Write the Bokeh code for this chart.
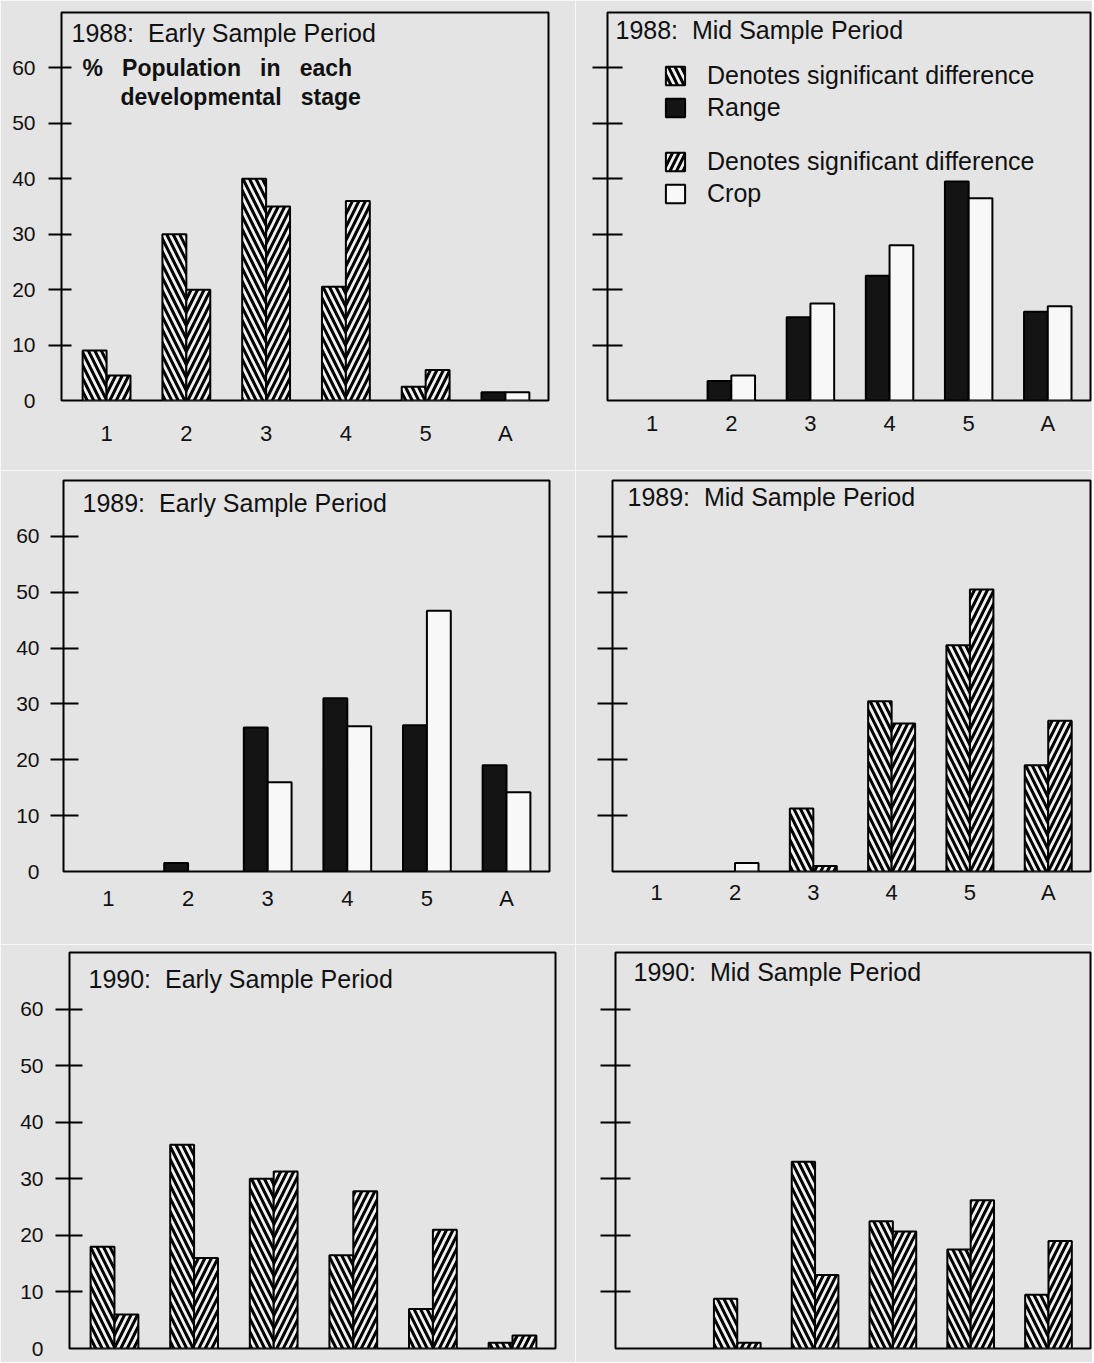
import numpy as np
from bokeh.plotting import figure
from bokeh.models import ColumnDataSource, Range1d, FixedTicker, Legend, LegendItem, Label
from bokeh.layouts import column, row
from bokeh.embed import file_html
from bokeh.resources import INLINE

# ---------------- data ----------------
stages = ['1', '2', '3', '4', '5', 'A']
y_ticks = [0, 10, 20, 30, 40, 50, 60]

titles = [
    "1988:\u00a0 Early Sample Period",
    "1988:\u00a0 Mid Sample Period",
    "1989:\u00a0 Early Sample Period",
    "1989:\u00a0 Mid Sample Period",
    "1990:\u00a0 Early Sample Period",
    "1990:\u00a0 Mid Sample Period",
]

range_88e = [9, 30, 40, 20.5, 2.5, 1.5]
crop_88e = [4.5, 20, 35, 36, 5.5, 1.5]
range_sig_88e = [1, 1, 1, 1, 1, 0]
crop_sig_88e = [1, 1, 1, 1, 1, 0]

range_88m = [0, 3.5, 15, 22.5, 39.5, 16]
crop_88m = [0, 4.5, 17.5, 28, 36.5, 17]
range_sig_88m = [0, 0, 0, 0, 0, 0]
crop_sig_88m = [0, 0, 0, 0, 0, 0]

range_89e = [0, 1.5, 25.8, 31, 26.2, 19]
crop_89e = [0, 0, 16, 26, 46.7, 14.2]
range_sig_89e = [0, 0, 0, 0, 0, 0]
crop_sig_89e = [0, 0, 0, 0, 0, 0]

range_89m = [0, 0, 11.3, 30.5, 40.5, 19]
crop_89m = [0, 1.5, 1, 26.5, 50.5, 27]
range_sig_89m = [0, 0, 1, 1, 1, 1]
crop_sig_89m = [0, 0, 1, 1, 1, 1]

range_90e = [18, 36, 30, 16.5, 7, 1]
crop_90e = [6, 16, 31.3, 27.8, 21, 2.3]
range_sig_90e = [1, 1, 1, 1, 1, 1]
crop_sig_90e = [1, 1, 1, 1, 1, 1]

range_90m = [0, 8.8, 33, 22.5, 17.5, 9.5]
crop_90m = [0, 1, 13, 20.7, 26.2, 19]
range_sig_90m = [1, 1, 1, 1, 1, 1]
crop_sig_90m = [1, 1, 1, 1, 1, 1]

legend_labels = ["Denotes significant difference", "Range",
                 "Denotes significant difference", "Crop"]
y_title_lines = ["%\u00a0\u00a0 Population\u00a0\u00a0 in\u00a0\u00a0 each",
                 "developmental\u00a0\u00a0 stage"]

# ---------------- styling ----------------
FONT = "Liberation Sans"
BG = "#e4e4e4"
INK = "#111111"
XSTART, XEND = -0.565, 5.54
YMAX = 70
BAR_W = 0.3
HATCH = dict(hatch_color="black", hatch_weight=3.0, hatch_scale=13)


def panel(title, rng, crop, rsig, csig, geom, yaxis_spec, xstandoff, title_off):
    w, h, bl, br, bt, bb = geom
    tick_out, tick_in, ystandoff, ylabels = yaxis_spec
    fw, fh = w - bl - br, h - bt - bb
    p = figure(width=w, height=h, min_border_left=bl, min_border_right=br,
               min_border_top=bt, min_border_bottom=bb,
               x_range=Range1d(XSTART, XEND), y_range=Range1d(0, YMAX),
               output_backend="svg", toolbar_location=None, tools="")
    p.background_fill_color = BG
    p.border_fill_color = BG
    p.outline_line_color = "black"
    p.outline_line_width = 2
    p.grid.visible = False

    ya = p.yaxis[0]
    ya.ticker = FixedTicker(ticks=y_ticks, minor_ticks=y_ticks[1:])
    ya.axis_line_color = None
    ya.major_tick_line_color = None
    ya.major_tick_out = tick_out
    ya.major_tick_in = 0
    ya.minor_tick_line_color = "black"
    ya.minor_tick_line_width = 2
    ya.minor_tick_in = tick_in
    ya.minor_tick_out = tick_out
    ya.major_label_standoff = ystandoff
    ya.major_label_text_font = FONT
    ya.major_label_text_font_size = "21px"
    ya.major_label_text_color = INK
    if not ylabels:
        ya.major_label_overrides = {t: "" for t in y_ticks}

    xa = p.xaxis[0]
    if xstandoff is not None:
        xa.ticker = FixedTicker(ticks=list(range(len(stages))))
        xa.major_label_overrides = {i: s for i, s in enumerate(stages)}
        xa.axis_line_color = None
        xa.major_tick_line_color = None
        xa.minor_tick_line_color = None
        xa.major_tick_out = 0
        xa.major_tick_in = 0
        xa.major_label_standoff = xstandoff
        xa.major_label_text_font = FONT
        xa.major_label_text_font_size = "22px"
        xa.major_label_text_color = INK
    else:
        xa.visible = False

    idx = np.arange(len(stages))
    rends = {}
    specs = [
        ("range_sig", rng, rsig, 1, -BAR_W / 2, dict(fill_color="#f0f0f0", hatch_pattern="\\", **HATCH)),
        ("range_non", rng, rsig, 0, -BAR_W / 2, dict(fill_color="#141414")),
        ("crop_sig", crop, csig, 1, BAR_W / 2, dict(fill_color="#f0f0f0", hatch_pattern="/", **HATCH)),
        ("crop_non", crop, csig, 0, BAR_W / 2, dict(fill_color="#f8f8f8")),
    ]
    for key, vals, sig, flag, off, style in specs:
        vals = np.asarray(vals, dtype=float)
        sig = np.asarray(sig)
        top = np.where((sig == flag) & (vals > 0), vals, np.nan)
        src = ColumnDataSource(dict(x=idx.astype(float) + off, top=top))
        rends[key] = p.vbar(x="x", top="top", bottom=0, width=BAR_W, source=src,
                            line_color="black", line_width=2, **style)

    ppx = fw / (XEND - XSTART)
    ppy = fh / YMAX
    dx, dy = title_off
    p.add_layout(Label(x=XSTART + dx / ppx, y=YMAX - dy / ppy, text=title,
                       text_baseline="middle", text_align="left",
                       text_font=FONT, text_font_size="25px", text_color=INK))
    return p, rends, ppx, ppy


p1, r1, ppx1, ppy1 = panel(titles[0], range_88e, crop_88e, range_sig_88e, crop_sig_88e,
                           (575, 470, 61, 27, 12, 65), (13, 10, 13, True), 20, (10, 21))
p2, r2, _, _ = panel(titles[1], range_88m, crop_88m, range_sig_88m, crop_sig_88m,
                     (517, 470, 32, 2, 5, 70), (15, 15, 0, False), 10, (8, 18))
p3, _, _, _ = panel(titles[2], range_89e, crop_89e, range_sig_89e, crop_sig_89e,
                    (575, 474, 63, 26, 10, 67), (13, 15, 11, True), 14, (19, 23))
p4, _, _, _ = panel(titles[3], range_89m, crop_89m, range_sig_89m, crop_sig_89m,
                    (517, 474, 37, 2, 4, 73), (15, 15, 0, False), 8, (15, 17))
p5, _, _, _ = panel(titles[4], range_90e, crop_90e, range_sig_90e, crop_sig_90e,
                    (575, 418, 69, 20, 8, 12), (14, 13, 12, True), None, (19, 27))
p6, _, _, _ = panel(titles[5], range_90m, crop_90m, range_sig_90m, crop_sig_90m,
                    (517, 418, 40, 2, 4, 14), (15, 15, 0, False), None, (18, 20))

# bold y-axis caption inside the first panel
p1.add_layout(Label(x=XSTART + 21 / ppx1, y=60, text=y_title_lines[0],
                    text_baseline="middle", text_font=FONT, text_font_style="bold",
                    text_font_size="23px", text_color=INK))
p1.add_layout(Label(x=XSTART + 59 / ppx1, y=60 - 29 / ppy1, text=y_title_lines[1],
                    text_baseline="middle", text_font=FONT, text_font_style="bold",
                    text_font_size="23px", text_color=INK))


def make_legend(items, loc):
    lg = Legend(items=items, location=loc, orientation="vertical")
    lg.background_fill_alpha = 0
    lg.border_line_color = None
    lg.padding = 0
    lg.margin = 0
    lg.spacing = 3
    lg.glyph_width = 24
    lg.glyph_height = 23
    lg.label_height = 23
    lg.label_standoff = 20
    lg.label_text_font = FONT
    lg.label_text_font_size = "25px"
    lg.label_text_color = INK
    return lg


leg1 = make_legend([LegendItem(label=legend_labels[0], renderers=[r2["range_sig"]]),
                    LegendItem(label=legend_labels[1], renderers=[r2["range_non"]])], (56, 278))
leg2 = make_legend([LegendItem(label=legend_labels[2], renderers=[r2["crop_sig"]]),
                    LegendItem(label=legend_labels[3], renderers=[r2["crop_non"]])], (56, 192))
p2.add_layout(leg1)
p2.add_layout(leg2)

root = column(row(p1, p2, spacing=0), row(p3, p4, spacing=0), row(p5, p6, spacing=0), spacing=0)

open("out.html", "w").write(file_html(root, INLINE))
